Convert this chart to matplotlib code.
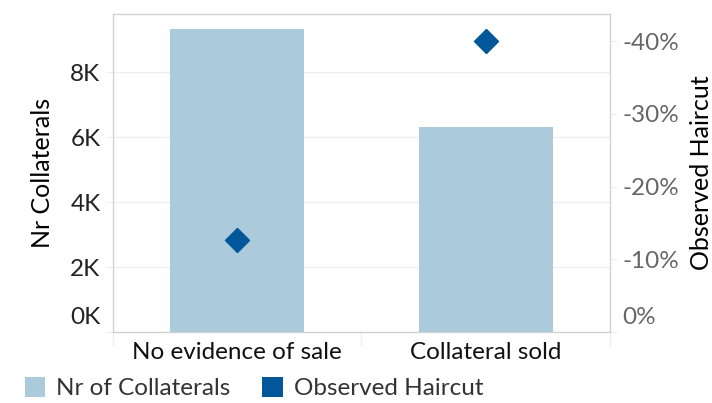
import matplotlib.pyplot as plt
from matplotlib.patches import Patch
from matplotlib.transforms import ScaledTranslation
import numpy as np

plt.rcParams["font.family"] = ["Lato", "DejaVu Sans"]

categories = ["No evidence of sale", "Collateral sold"]
nr_collaterals = [9320, 6310]
observed_haircut = [-0.127, -0.400]

left_ticks = [0, 2000, 4000, 6000, 8000]
left_tick_labels = ["0K", "2K", "4K", "6K", "8K"]
right_ticks = [0.0, -0.1, -0.2, -0.3, -0.4]
right_tick_labels = ["0%", "-10%", "-20%", "-30%", "-40%"]

bar_color = "#abcbdc"
marker_color = "#02569a"
grid_color = "#eeeeee"
spine_color = "#cfcfcf"
fs = 17.5

fig = plt.figure(figsize=(7.12, 4.03), dpi=100)
ax = fig.add_axes([0.1587, 0.1762, 0.6980, 0.7891])

x = np.arange(len(categories))
ax.bar(x, nr_collaterals, width=0.54, color=bar_color, zorder=2)
ax.set_xlim(-0.5, 1.5)
ax.set_ylim(0, 9790)
ax.set_yticks(left_ticks)
ax.set_yticklabels(left_tick_labels)
ax.set_xticks(x)
ax.set_xticklabels(categories)
ax.grid(axis="y", color=grid_color, linewidth=1, zorder=0)
ax.tick_params(axis="y", length=5, color=grid_color, labelsize=fs, labelcolor="#222222", pad=4)
ax.tick_params(axis="x", length=0, labelsize=fs, labelcolor="#111111", pad=7)
for s in ax.spines.values():
    s.set_color(spine_color)
ax.set_ylabel("Nr Collaterals", fontsize=fs + 0.5, labelpad=12)

# push the zero label up like the original
lbl0 = ax.get_yticklabels()[0]
lbl0.set_transform(lbl0.get_transform() + ScaledTranslation(0, 16 / 100, fig.dpi_scale_trans))

# category separators below the axis
for xs in [-0.5, 0.5, 1.5]:
    ax.plot([xs, xs], [0, -0.04], transform=ax.get_xaxis_transform(), color=grid_color,
            linewidth=1, clip_on=False)

ax2 = ax.twinx()
ax2.scatter(x, observed_haircut, marker="D", s=150, color=marker_color, zorder=5)
ax2.set_ylim(0, -0.4375)
ax2.set_yticks(right_ticks)
ax2.set_yticklabels(right_tick_labels)
ax2.tick_params(axis="y", length=5, color=grid_color, labelsize=fs, labelcolor="#666666", pad=4)
for s in ax2.spines.values():
    s.set_color(spine_color)
ax2.set_ylabel("Observed Haircut", fontsize=fs + 0.5, labelpad=8)
lbl0r = ax2.get_yticklabels()[0]
lbl0r.set_transform(lbl0r.get_transform() + ScaledTranslation(0, 16 / 100, fig.dpi_scale_trans))

handles = [
    Patch(facecolor=bar_color, edgecolor="none"),
    Patch(facecolor=marker_color, edgecolor="none"),
]
fig.legend(handles, ["Nr of Collaterals", "Observed Haircut"], loc="lower left",
           bbox_to_anchor=(0.004, -0.045), ncol=2, frameon=False, fontsize=fs,
           labelcolor="#333333", handlelength=0.85, handleheight=0.85,
           handletextpad=0.45, columnspacing=1.3)

fig.savefig("out.png", dpi=100)
